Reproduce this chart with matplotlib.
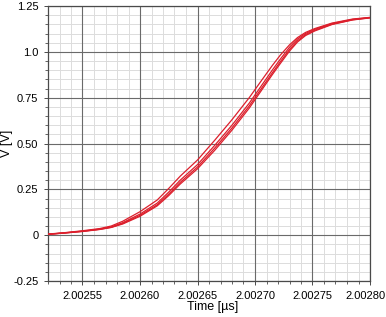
import matplotlib
matplotlib.use("Agg")
import matplotlib.pyplot as plt
import matplotlib.transforms as mtransforms
from matplotlib.ticker import FixedLocator

plt.rcParams['font.family'] = ['Liberation Sans', 'DejaVu Sans']

# time points [us]
t = [2.002520, 2.002535, 2.002550, 2.002565, 2.002575, 2.002585, 2.002600,
     2.002615, 2.002625, 2.002635, 2.002650, 2.002665, 2.002680, 2.002695,
     2.002705, 2.002715, 2.002722, 2.002730, 2.002737, 2.002744, 2.002752,
     2.002767, 2.002785, 2.002800]

# several overlaid traces [V]
v1 = [0.006, 0.014, 0.024, 0.036, 0.050, 0.076, 0.128, 0.192, 0.255, 0.322,
      0.410, 0.518, 0.630, 0.750, 0.838, 0.925, 0.982, 1.038, 1.078, 1.106,
      1.127, 1.157, 1.179, 1.188]
v2 = [0.005, 0.013, 0.022, 0.033, 0.045, 0.068, 0.115, 0.175, 0.235, 0.300,
      0.385, 0.490, 0.600, 0.720, 0.810, 0.900, 0.960, 1.025, 1.070, 1.100,
      1.123, 1.154, 1.177, 1.187]
v3 = [0.005, 0.012, 0.021, 0.032, 0.043, 0.064, 0.108, 0.166, 0.224, 0.288,
      0.372, 0.475, 0.585, 0.705, 0.795, 0.885, 0.946, 1.013, 1.061, 1.094,
      1.118, 1.151, 1.175, 1.186]
v4 = [0.004, 0.012, 0.020, 0.031, 0.042, 0.061, 0.103, 0.160, 0.216, 0.279,
      0.362, 0.463, 0.573, 0.693, 0.784, 0.875, 0.936, 1.004, 1.054, 1.089,
      1.114, 1.149, 1.174, 1.185]
traces = [v1, v2, v3, v4]

xticks = [2.00255, 2.00260, 2.00265, 2.00270, 2.00275, 2.00280]
xlabels = ["2.00255", "2.00260", "2.00265", "2.00270", "2.00275", "2.00280"]
yticks = [-0.25, 0, 0.25, 0.50, 0.75, 1.0, 1.25]
ylabels = ["-0.25", "0", "0.25", "0.50", "0.75", "1.0", "1.25"]

fig = plt.figure(figsize=(3.86, 3.17), dpi=100)
ax = fig.add_axes([48 / 386, 1 - 281 / 317, 322 / 386, 275 / 317])

for v in traces:
    ax.plot(t, v, color='#dc1f2c', lw=0.9, zorder=3)

ax.set_xlim(2.00252, 2.00280)
ax.set_ylim(-0.25, 1.25)
ax.xaxis.set_major_locator(FixedLocator(xticks))
ax.set_xticklabels(xlabels)
# minor grid every 1e-5 us / 0.05 V, skipping the major positions
xminor = [2.00252 + i * 0.00001 for i in range(29) if (i + 2) % 5 != 0]
yminor = [-0.25 + i * 0.05 for i in range(31) if i % 5 != 0]
ax.xaxis.set_minor_locator(FixedLocator(xminor))
ax.set_yticks(yticks)
ax.set_yticklabels(ylabels)
ax.yaxis.set_minor_locator(FixedLocator(yminor))

ax.grid(which='minor', color='#dcdcdc', lw=0.7)
ax.set_axisbelow(True)
# major grid drawn on top of the minor one so it stays solid
for x in xticks:
    ax.axvline(x, color='#6a6a6a', lw=0.8, zorder=1)
for y in yticks:
    ax.axhline(y, color='#6a6a6a', lw=0.8, zorder=1)
for s in ax.spines.values():
    s.set_color('#4a4a4a')
    s.set_linewidth(0.9)

ax.tick_params(which='major', length=3, width=0.7, color='#4a4a4a',
               labelsize=8, pad=4)
ax.tick_params(which='minor', length=2, width=0.6, color='#4a4a4a')

# last x label pulled left a bit so it stays inside the figure
last = ax.get_xticklabels()[-1]
last.set_transform(last.get_transform() +
                   mtransforms.ScaledTranslation(-4 / 100, 0, fig.dpi_scale_trans))

ax.set_xlabel("Time [\u00b5s]", fontsize=9, va='center', ha='center')
ax.set_ylabel("V [V]", fontsize=9, va='center', ha='center')
ax.xaxis.set_label_coords(0.51, -0.095)
ax.yaxis.set_label_coords(-0.127, 0.5)

fig.savefig("out.png", dpi=100)
